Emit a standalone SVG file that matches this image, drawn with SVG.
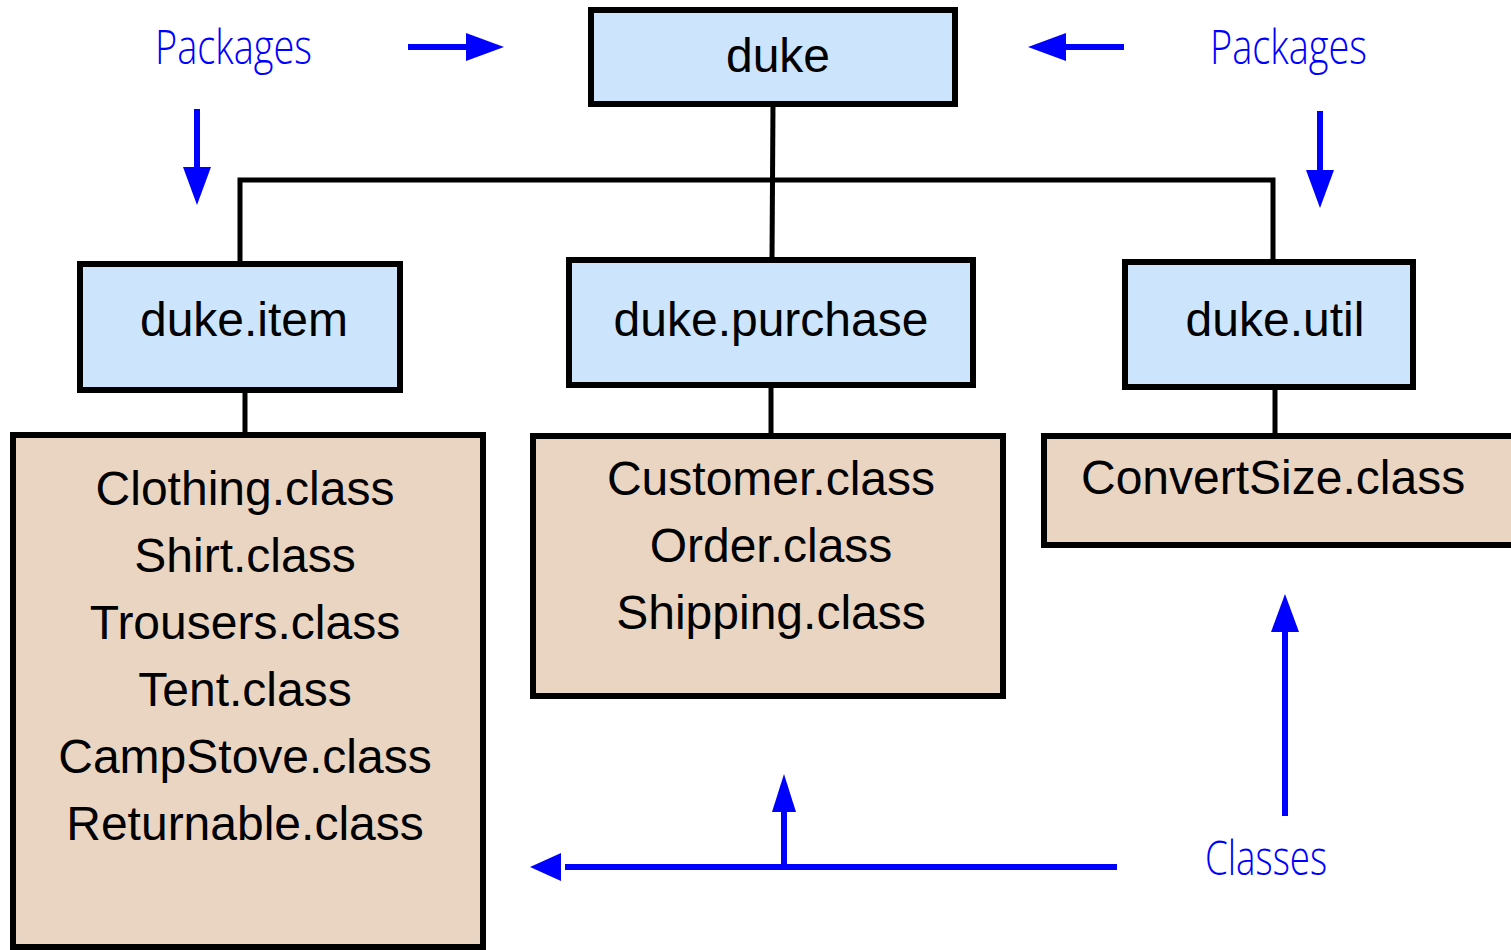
<svg xmlns="http://www.w3.org/2000/svg" width="1511" height="950" viewBox="0 0 1511 950">
  <style>
    .pkg { fill: #cce5fd; stroke: #000; stroke-width: 6; }
    .cls { fill: #ead5c3; stroke: #000; stroke-width: 6; }
    .lbl { font-family: "Liberation Sans", Arial, sans-serif; font-size: 48px; fill: #000; text-anchor: middle; }
    .link { stroke: #000; stroke-width: 5; fill: none; }
    .note { font-family: "Open Sans", "Liberation Sans", sans-serif; font-size: 48px; fill: #0000ff; font-weight: 300; }
    .ptr { stroke: #0000ff; stroke-width: 6; fill: none; }
    .head { fill: #0000ff; }
  </style>

  <rect width="1511" height="950" fill="#fff"/>

  <!-- tree connectors -->
  <g id="connectors">
    <path class="link" d="M773 104 L772 260"/>
    <path class="link" d="M240 264 L240 180 L1273 180 L1273 262"/>
    <path class="link" d="M245 390 L245 435"/>
    <path class="link" d="M771 385 L771 436"/>
    <path class="link" d="M1275 387 L1275 436"/>
  </g>

  <!-- package nodes -->
  <g id="duke">
    <rect class="pkg" x="591" y="10" width="364" height="94"/>
    <text class="lbl" x="778" y="72">duke</text>
  </g>
  <g id="duke-item">
    <rect class="pkg" x="80" y="264" width="320" height="126"/>
    <text class="lbl" x="244" y="336">duke.item</text>
  </g>
  <g id="duke-purchase">
    <rect class="pkg" x="569" y="260" width="404" height="125"/>
    <text class="lbl" x="771" y="336">duke.purchase</text>
  </g>
  <g id="duke-util">
    <rect class="pkg" x="1125" y="262" width="288" height="125"/>
    <text class="lbl" x="1275" y="336">duke.util</text>
  </g>

  <!-- class nodes -->
  <g id="item-classes">
    <rect class="cls" x="13" y="435" width="470" height="512"/>
    <text class="lbl" x="245" y="505">Clothing.class</text>
    <text class="lbl" x="245" y="572">Shirt.class</text>
    <text class="lbl" x="245" y="639">Trousers.class</text>
    <text class="lbl" x="245" y="706">Tent.class</text>
    <text class="lbl" x="245" y="773">CampStove.class</text>
    <text class="lbl" x="245" y="840">Returnable.class</text>
  </g>
  <g id="purchase-classes">
    <rect class="cls" x="533" y="436" width="470" height="260"/>
    <text class="lbl" x="771" y="495">Customer.class</text>
    <text class="lbl" x="771" y="562">Order.class</text>
    <text class="lbl" x="771" y="629">Shipping.class</text>
  </g>
  <g id="util-classes">
    <rect class="cls" x="1044" y="436" width="480" height="109"/>
    <text class="lbl" x="1081" y="494" style="text-anchor:start">ConvertSize.class</text>
  </g>

  <!-- annotations -->
  <g id="annotations">
    <text class="note" x="155" y="64" textLength="157" lengthAdjust="spacingAndGlyphs">Packages</text>
    <text class="note" x="1210" y="64" textLength="157" lengthAdjust="spacingAndGlyphs">Packages</text>
    <text class="note" x="1205" y="875" textLength="122" lengthAdjust="spacingAndGlyphs">Classes</text>

    <path class="ptr" d="M408 47 L470 47"/>
    <polygon class="head" points="504,47 466,33 466,61"/>

    <path class="ptr" d="M1124 47 L1062 47"/>
    <polygon class="head" points="1028,47 1066,33 1066,61"/>

    <path class="ptr" d="M197 109 L197 172"/>
    <polygon class="head" points="197,205 183,167 211,167"/>

    <path class="ptr" d="M1320 111 L1320 174"/>
    <polygon class="head" points="1320,208 1306,170 1334,170"/>

    <path class="ptr" d="M1285 816 L1285 628"/>
    <polygon class="head" points="1285,594 1271,632 1299,632"/>

    <path class="ptr" d="M1117 867 L565 867"/>
    <polygon class="head" points="530,867 561,853 561,881"/>

    <path class="ptr" d="M784 864 L784 808"/>
    <polygon class="head" points="784,774 772,812 796,812"/>
  </g>
</svg>
